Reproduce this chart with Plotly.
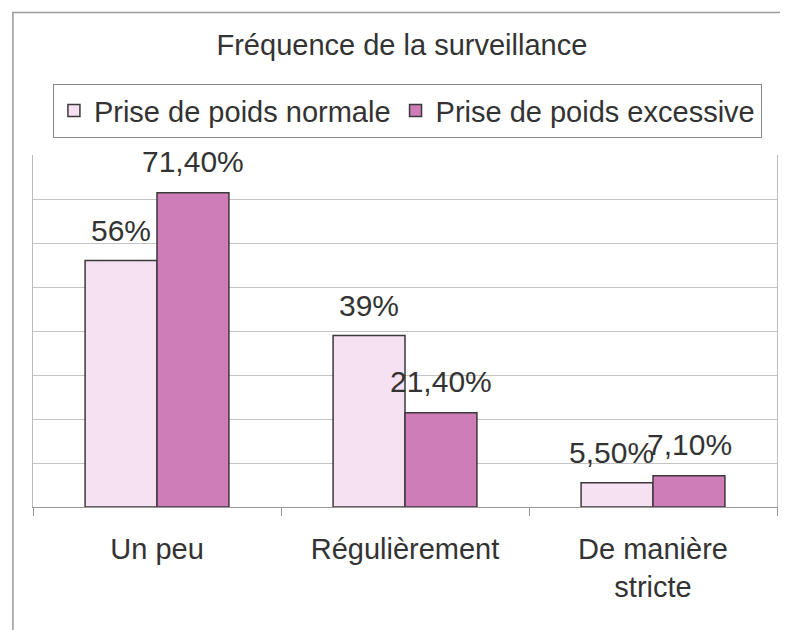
import plotly.graph_objects as go

# ── données ─────────────────────────────────────────────
categories = ["Un peu", "Régulièrement", "De manière<br>stricte"]
normale = [56, 39, 5.5]
excessive = [71.4, 21.4, 7.1]
labels_normale = ["56%", "39%", "5,50%"]
labels_excessive = ["71,40%", "21,40%", "7,10%"]

FONT = "Liberation Sans, Arial, sans-serif"
TXT = "#333333"
PINK = "#F6E1F2"
MAUVE = "#CE7DB8"

fig = go.Figure()
fig.add_bar(x=categories, y=normale, name="Prise de poids normale",
            marker=dict(color=PINK, line=dict(color="#3a3a3a", width=1.5)))
fig.add_bar(x=categories, y=excessive, name="Prise de poids excessive",
            marker=dict(color=MAUVE, line=dict(color="#3a3a3a", width=1.5)))

# étiquettes au-dessus des barres (la dernière un peu décalée, comme l'original)
shifts_normale = [-36, -36, -42]
for cat, v, t, dx in zip(categories, normale, labels_normale, shifts_normale):
    fig.add_annotation(x=cat, y=v, text=t, xref="x", yref="y", showarrow=False,
                       xshift=dx, yshift=30, font=dict(family=FONT, size=30, color=TXT))
for cat, v, t in zip(categories, excessive, labels_excessive):
    fig.add_annotation(x=cat, y=v, text=t, xref="x", yref="y", showarrow=False,
                       xshift=36, yshift=31, font=dict(family=FONT, size=30, color=TXT))

# cadre extérieur du graphique
fig.add_shape(type="rect", xref="paper", yref="paper",
              x0=-0.027, x1=1.1, y0=-0.38, y1=1.405,
              line=dict(color="#9a9a9a", width=1.5), fillcolor="rgba(0,0,0,0)")

# la page ajoute une marge de 8 px : la figure fait donc 780x622
fig.update_layout(
    width=780, height=622,
    margin=dict(l=25, r=11, t=147, b=123),
    paper_bgcolor="white", plot_bgcolor="white",
    font=dict(family=FONT, size=29, color=TXT),
    title=dict(text="Fréquence de la surveillance", x=0.505, xanchor="center",
               y=1 - 37 / 622, yanchor="middle", font=dict(size=29, color=TXT)),
    barmode="group", bargap=0.42, bargroupgap=0,
    showlegend=True,
    legend=dict(orientation="h", x=0.503, xanchor="center", y=1.125, yanchor="middle",
                bordercolor="#888888", borderwidth=1.2, bgcolor="white",
                font=dict(size=29, color=TXT), itemwidth=30, traceorder="normal"),
)
fig.update_yaxes(range=[0, 80], dtick=10, showticklabels=False, showgrid=True,
                 gridcolor="#c4c4c4", gridwidth=1, zeroline=False,
                 showline=True, linecolor="#bbbbbb", linewidth=1, mirror=True)
fig.update_xaxes(showline=True, linecolor="#999999", linewidth=1.2,
                 ticks="outside", tickson="boundaries", ticklen=8, tickcolor="#999999",
                 ticklabelstandoff=16, tickfont=dict(size=29, color=TXT))

fig.write_html("out.html")
